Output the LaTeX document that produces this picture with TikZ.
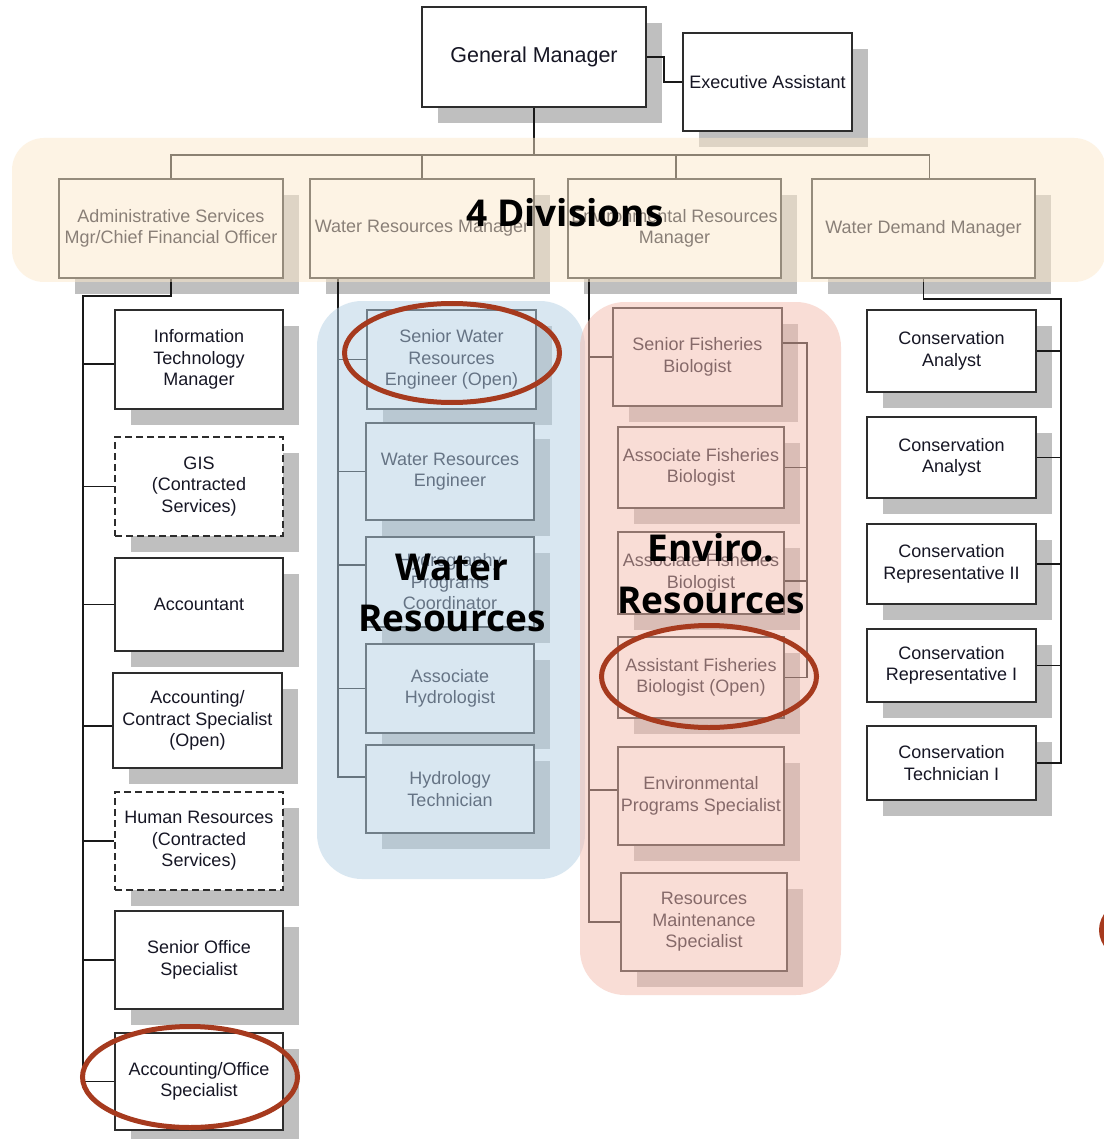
\documentclass[tikz,border=0pt]{standalone}
\usepackage{fontspec}
\setmainfont{Liberation Sans}
\newfontfamily\bigfont{Open Sans}
\usetikzlibrary{shadows}
\definecolor{shgray}{RGB}{191,191,191}
\definecolor{boxline}{RGB}{45,45,45}
\definecolor{txt}{RGB}{22,22,36}
\definecolor{creamc}{RGB}{253,233,203}
\definecolor{bluec}{RGB}{181,209,229}
\definecolor{pinkc}{RGB}{245,189,175}
\definecolor{ringc}{RGB}{166,58,30}
\begin{document}
\begin{tikzpicture}[x=1pt,y=-1pt,
  box/.style={draw=boxline, line width=1.6pt, fill=white, align=center, inner sep=0pt,
    font=\fontsize{18}{21.5}\selectfont, text=txt,
    general shadow={fill=shgray, shadow xshift=16pt, shadow yshift=-16pt}},
  dbox/.style={box, dash pattern=on 7pt off 4pt},
  conn/.style={draw=black!90, line width=1.6pt},
  ring/.style={draw=ringc, line width=5pt},
  big/.style={font=\bigfont\bfseries\fontsize{37}{44}\selectfont, anchor=base, inner sep=0pt, text=black},
  tint/.style={rounded corners=#1, fill opacity=0.5, draw=none}
]
\useasboundingbox (0,0) rectangle (1103,1139);
\fill[white] (0,0) rectangle (1103,1139);

% top
\node[box, minimum width=224pt, minimum height=100pt, font=\fontsize{21.5}{25}\selectfont] (gm) at (534,57) {General Manager};
\node[box, minimum width=169pt, minimum height=98pt] (ea) at (767.5,82) {Executive Assistant};
% divisions
\node[box, minimum width=224pt, minimum height=99pt] (adm) at (171,228.5) {Administrative Services\\Mgr/Chief Financial Officer};
\node[box, minimum width=224pt, minimum height=99pt] (wrm) at (422,228.5) {Water Resources Manager};
\node[box, minimum width=213pt, minimum height=99pt] (erm) at (674.5,228.5) {Environmental Resources\\Manager};
\node[box, minimum width=223pt, minimum height=99pt] (wdm) at (923.5,228.5) {Water Demand Manager};
% admin column
\node[box, minimum width=168pt, minimum height=99pt] (it) at (199,359.5) {Information\\Technology\\Manager};
\node[dbox, minimum width=168pt, minimum height=99pt] (gis) at (199,486.5) {GIS\\(Contracted\\Services)};
\node[box, minimum width=168pt, minimum height=93pt] (acct) at (199,604.5) {Accountant};
\node[box, minimum width=169pt, minimum height=95pt] (acs) at (197.5,720.5) {Accounting/\\Contract Specialist\\(Open)};
\node[dbox, minimum width=168pt, minimum height=98pt] (hr) at (199,841) {Human Resources\\(Contracted\\Services)};
\node[box, minimum width=168pt, minimum height=98pt] (sos) at (199,960) {Senior Office\\Specialist};
\node[box, minimum width=168pt, minimum height=97pt] (aos) at (199,1081.5) {Accounting/Office\\Specialist};
% water column
\node[box, minimum width=169pt, minimum height=99pt] (swre) at (451.5,359.5) {Senior Water\\Resources\\Engineer (Open)};
\node[box, minimum width=168pt, minimum height=97pt] (wre) at (450,471.5) {Water Resources\\Engineer};
\node[box, minimum width=168pt, minimum height=90pt] (hpc) at (450,582) {Hydrography\\Programs\\Coordinator};
\node[box, minimum width=168pt, minimum height=89pt] (ah) at (450,688.5) {Associate\\Hydrologist};
\node[box, minimum width=168pt, minimum height=88pt] (ht) at (450,789) {Hydrology\\Technician};
% fisheries column
\node[box, minimum width=169pt, minimum height=98pt] (sfb) at (697.5,357) {Senior Fisheries\\Biologist};
\node[box, minimum width=166pt, minimum height=81pt] (afb1) at (701,467.5) {Associate Fisheries\\Biologist};
\node[box, minimum width=166pt, minimum height=82pt] (afb2) at (701,573) {Associate Fisheries\\Biologist};
\node[box, minimum width=166pt, minimum height=81pt] (asfb) at (701,677.5) {Assistant Fisheries\\Biologist (Open)};
\node[box, minimum width=166pt, minimum height=98pt] (eps) at (701,796) {Environmental\\Programs Specialist};
\node[box, minimum width=166pt, minimum height=98pt] (rms) at (704,922) {Resources\\Maintenance\\Specialist};
% conservation column
\node[box, minimum width=169pt, minimum height=82pt] (ca1) at (951.5,351) {Conservation\\Analyst};
\node[box, minimum width=169pt, minimum height=81pt] (ca2) at (951.5,457.5) {Conservation\\Analyst};
\node[box, minimum width=169pt, minimum height=80pt] (cr2) at (951.5,564) {Conservation\\Representative II};
\node[box, minimum width=169pt, minimum height=73pt] (cr1) at (951.5,665.5) {Conservation\\Representative I};
\node[box, minimum width=169pt, minimum height=74pt] (ct1) at (951.5,763) {Conservation\\Technician I};

% connectors: top
\coordinate (bus) at (0,155);
\coordinate (wdmtop) at ([xshift=6pt]wdm.north);
\draw[conn] (gm.east) -- ++(17,0) |- (ea.west);
\draw[conn] (gm.south) -- (gm.south |- bus);
\draw[conn] (adm.north) |- (wdmtop |- bus) -- (wdmtop);
\draw[conn] (wrm.north) -- (wrm.north |- bus);
\draw[conn] ([xshift=1.5pt]erm.north) -- ([xshift=1.5pt]erm.north |- bus);
% admin trunk
\coordinate (lt) at (83,296);
\coordinate (itb) at ([yshift=-4.5pt]it.west);
\coordinate (acsb) at ([yshift=-5.5pt]acs.west);
\draw[conn] (adm.south) |- (lt) -- (lt |- aos.west) -- (aos.west);
\draw[conn] (lt |- itb) -- (itb);
\draw[conn] (lt |- gis.west) -- (gis.west);
\draw[conn] (lt |- acct.west) -- (acct.west);
\draw[conn] (lt |- acsb) -- (acsb);
\draw[conn] (lt |- hr.west) -- (hr.west);
\draw[conn] (lt |- sos.west) -- (sos.west);
% water trunk
\coordinate (wt) at ([xshift=29pt]wrm.south west);
\coordinate (hpcb) at ([yshift=17pt]hpc.west);
\coordinate (htb) at ([yshift=12pt]ht.west);
\draw[conn] (wt) -- (wt |- htb) -- (htb);
\draw[conn] (wt |- swre.west) -- (swre.west);
\draw[conn] (wt |- wre.west) -- (wre.west);
\draw[conn] (wt |- hpcb) -- (hpcb);
\draw[conn] (wt |- ah.west) -- (ah.west);
% fisheries trunk
\coordinate (ft) at ([xshift=22pt]erm.south west);
\coordinate (epsb) at ([yshift=6pt]eps.west);
\draw[conn] (ft) -- (ft |- rms.west) -- (rms.west);
\draw[conn] (ft |- sfb.west) -- (sfb.west);
\draw[conn] (ft |- epsb) -- (epsb);
% fisheries bracket
\coordinate (fb) at (807,0);
\coordinate (afb2b) at ([yshift=-8pt]afb2.east);
\draw[conn] ([yshift=14pt]sfb.east) -| (fb |- asfb.east) -- (asfb.east);
\draw[conn] (fb |- afb1.east) -- (afb1.east);
\draw[conn] (fb |- afb2b) -- (afb2b);
% conservation bracket
\coordinate (cb) at (1061,299);
\draw[conn] (wdm.south) |- (cb) -- (cb |- ct1.east) -- (ct1.east);
\draw[conn] (cb |- ca1.east) -- (ca1.east);
\draw[conn] (cb |- ca2.east) -- (ca2.east);
\draw[conn] (cb |- cr2.east) -- (cr2.east);
\draw[conn] (cb |- cr1.east) -- (cr1.east);

% tinted regions
\fill[tint=32pt, creamc] (12,138) rectangle (1106,282);
\fill[tint=45pt, bluec] (317,301) rectangle (585,879);
\fill[tint=45pt, pinkc] (580,302) rectangle (841,995);

% big labels
\node[big] (l4) at (565,227) {4 Divisions};
\node[big] (lw1) at (452,580) {Water};
\node[big] (lw2) at (452,631) {Resources};
\node[big] (le1) at (711,561) {Enviro.};
\node[big] (le2) at (711,613) {Resources};

% rings
\draw[ring] (452,353) ellipse [x radius=107.5, y radius=49.5];
\draw[ring] (709,676.5) ellipse [x radius=107.5, y radius=51];
\draw[ring] (190,1077) ellipse [x radius=107.5, y radius=50.5];
\draw[ring] (1209,930) ellipse [x radius=107.5, y radius=50.5];
\end{tikzpicture}
\end{document}
